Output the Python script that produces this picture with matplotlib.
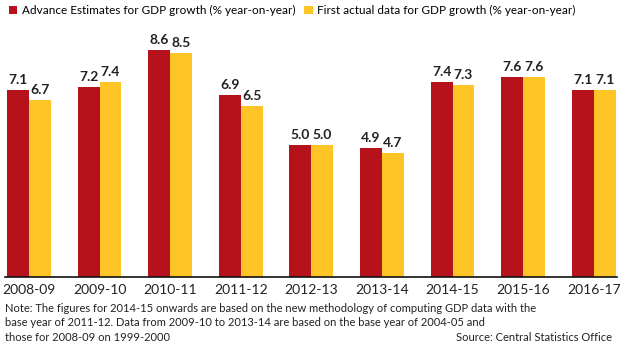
import matplotlib.pyplot as plt
import numpy as np

plt.rcParams['font.family'] = ['Lato', 'DejaVu Sans']

years = ['2008-09', '2009-10', '2010-11', '2011-12', '2012-13',
         '2013-14', '2014-15', '2015-16', '2016-17']
advance = [7.1, 7.2, 8.6, 6.9, 5.0, 4.9, 7.4, 7.6, 7.1]
actual = [6.7, 7.4, 8.5, 6.5, 5.0, 4.7, 7.3, 7.6, 7.1]

red = '#B5121B'
yellow = '#FFC425'

fig = plt.figure(figsize=(6.2, 3.54), dpi=100)
ax = fig.add_axes([5/620, 77/354, 612/620, 257/354])

x = np.arange(len(years))
w = 0.31
ax.bar(x - w/2, advance, w, color=red, label='Advance Estimates for GDP growth (% year-on-year)')
ax.bar(x + w/2, actual, w, color=yellow, label='First actual data for GDP growth (% year-on-year)')

for i in range(len(years)):
    ax.text(x[i] - w/2, advance[i] + 0.15, '%.1f' % advance[i], ha='center', va='bottom',
            fontsize=10, fontweight='bold', color='#222222')
    ax.text(x[i] + w/2, actual[i] + 0.15, '%.1f' % actual[i], ha='center', va='bottom',
            fontsize=10, fontweight='bold', color='#222222')

ax.set_xlim(-0.34, 8.33)
ax.set_ylim(0, 9.75)
ax.set_xticks(x)
ax.set_xticklabels(years, fontsize=10, color='#222222')
ax.tick_params(axis='x', length=0, pad=5)
ax.set_yticks([])
for s in ['top', 'right', 'left']:
    ax.spines[s].set_visible(False)
ax.spines['bottom'].set_color('#111111')
ax.spines['bottom'].set_linewidth(1.2)

ax.legend(loc='lower left', bbox_to_anchor=(0, 1.0), ncol=2, frameon=False,
          fontsize=8.5, handlelength=0.7, handleheight=0.7, handletextpad=0.4,
          columnspacing=0.8, borderaxespad=0.3, borderpad=0)

note_lines = ['Note: The figures for 2014-15 onwards are based on the new methodology of computing GDP data with the',
              'base year of 2011-12. Data from 2009-10 to 2013-14 are based on the base year of 2004-05 and',
              'those for 2008-09 on 1999-2000']
for k, line in enumerate(note_lines):
    fig.text(5/620, 1 - (303 + k*14.5)/354, line, ha='left', va='top', fontsize=8, color='#222222')
fig.text(612/620, 1 - (303 + 2*14.5)/354, 'Source: Central Statistics Office', ha='right', va='top',
         fontsize=8, color='#222222')

fig.savefig('out.png', dpi=100)
